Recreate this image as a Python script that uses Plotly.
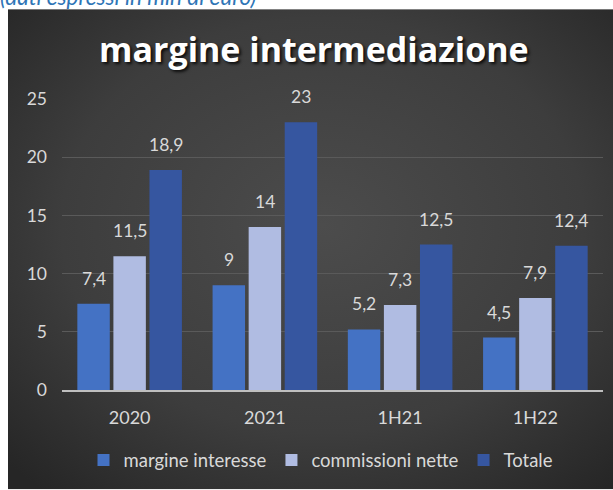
import base64
import plotly.graph_objects as go

categories = ["2020", "2021", "1H21", "1H22"]
margine_interesse = [7.4, 9, 5.2, 4.5]
commissioni_nette = [11.5, 14, 7.3, 7.9]
totale = [18.9, 23, 12.5, 12.4]
y_ticks = [0, 5, 10, 15, 20, 25]

series = [
    ("margine interesse", margine_interesse, "#4472c4"),
    ("commissioni nette", commissioni_nette, "#b0bce2"),
    ("Totale", totale, "#3656a0"),
]

FONT = "Lato, Calibri, sans-serif"
W, H = 613, 490
L, R, T, B = 62, 10, 99, 99.5
pw, ph = W - L - R, H - T - B


def px_x(p):
    return (p - L) / pw


def px_y(p):
    return (H - B - p) / ph


svg = (
    "<svg xmlns='http://www.w3.org/2000/svg' width='605' height='481' preserveAspectRatio='none'>"
    "<defs><radialGradient id='g' cx='0.52' cy='0.45' r='0.72'>"
    "<stop offset='0' stop-color='#4c4c4c'/><stop offset='0.6' stop-color='#3d3d3d'/>"
    "<stop offset='1' stop-color='#262626'/></radialGradient></defs>"
    "<rect width='605' height='481' fill='url(#g)'/></svg>"
)
bg = "data:image/svg+xml;base64," + base64.b64encode(svg.encode()).decode()

fig = go.Figure()
for name, vals, color in series:
    fig.add_trace(go.Bar(
        x=categories, y=vals, name=name,
        marker=dict(color=color, line=dict(width=0)),
    ))

# data labels above the bars (x given as category index)
offsets = [-36, 0, 36]
for (name, vals, color), dx in zip(series, offsets):
    for i, v in enumerate(vals):
        fig.add_annotation(
            x=i, y=v, xref="x", yref="y", text=f"{v:g}".replace(".", ","),
            showarrow=False, xshift=dx, yshift=13, yanchor="bottom",
            font=dict(family=FONT, size=17.5, color="#d9d9d9"),
        )

# subtitle, cut off by the top edge as in the original
fig.add_annotation(
    x=px_x(0), y=px_y(-4), xref="paper", yref="paper", xanchor="left", yanchor="middle",
    xshift=-2, text="(dati espressi in mln di euro)", showarrow=False,
    font=dict(family=FONT, size=22.5, color="#2e75b6", style="italic"),
)

fig.add_layout_image(
    source=bg, xref="paper", yref="paper", x=px_x(8), y=px_y(9),
    sizex=605 / pw, sizey=481 / ph, xanchor="left", yanchor="top",
    sizing="stretch", layer="below",
)

fig.update_layout(
    width=W, height=H,
    margin=dict(l=L, r=R, t=T, b=B),
    paper_bgcolor="white", plot_bgcolor="rgba(0,0,0,0)",
    barmode="group", bargap=0.2, bargroupgap=0.1,
    title=dict(
        text="<b>margine intermediazione</b>", x=0.512, xanchor="center",
        y=1 - 50 / H, yanchor="middle",
        font=dict(family="Open Sans, sans-serif", size=34, color="white",
                  shadow="2px 2px 3px rgba(0,0,0,0.8)"),
    ),
    font=dict(family=FONT, size=16, color="#d9d9d9"),
    showlegend=True,
    legend=dict(
        orientation="h", x=px_x(321), xanchor="center", y=px_y(461), yanchor="middle",
        font=dict(family=FONT, size=18.5, color="#d9d9d9"),
        bgcolor="rgba(0,0,0,0)", itemwidth=30, tracegroupgap=0,
    ),
    xaxis=dict(
        type="category", categoryorder="array", categoryarray=categories,
        range=[-0.5, len(categories) - 0.5], autorange=False,
        showgrid=False, showline=True, linecolor="#bfbfbf",
        linewidth=2, ticks="", ticklabelstandoff=10,
        tickfont=dict(family=FONT, size=18, color="#d9d9d9"),
    ),
    yaxis=dict(
        range=[0, 25], tickvals=y_ticks, showgrid=True, gridcolor="#5a5a5a",
        gridwidth=1, zeroline=False, showline=False, ticklabelstandoff=14,
        tickfont=dict(family=FONT, size=17.5, color="#d9d9d9"),
    ),
)

# drop the page's default body margin so the figure sits at the window corner
fig.write_html(
    "out.html",
    config={"displayModeBar": False},
    post_script="document.body.style.margin='0';",
)
